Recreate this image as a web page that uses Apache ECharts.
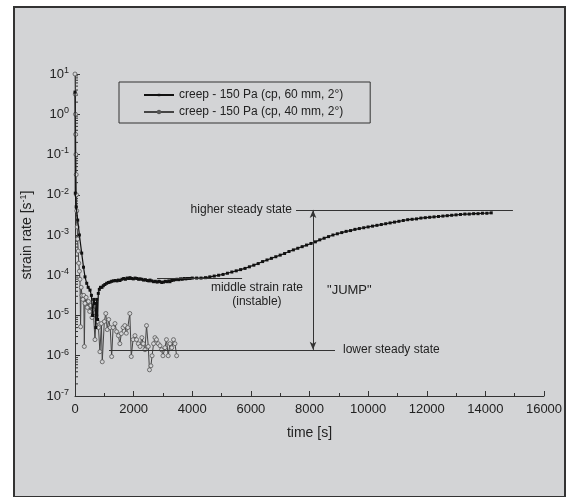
<!DOCTYPE html>
<html>
<head>
<meta charset="utf-8">
<script src="https://cdn.jsdelivr.net/npm/echarts@6/dist/echarts.min.js"></script>
<style>
  html, body { margin: 0; padding: 0; background: #fff; }
  #chart { width: 574px; height: 497px; }
</style>
</head>
<body>
<div id="chart"></div>
<script>
// time [s] and log10(strain rate)
const t60 = [0, 10, 40, 92, 150, 228, 290, 341, 400, 450, 512, 560, 600, 640, 682, 710, 740, 770, 795, 830, 870, 920, 966, 1020, 1080, 1140, 1194, 1250, 1310, 1370, 1430, 1480, 1535, 1600, 1660, 1720, 1780, 1830, 1876, 1930, 1990, 2050, 2110, 2170, 2217, 2280, 2340, 2400, 2460, 2520, 2558, 2620, 2680, 2740, 2800, 2860, 2899, 2960, 3020, 3080, 3140, 3200, 3240, 3300, 3360, 3420, 3480, 3540, 3600, 3660, 3720, 3780, 3840, 3922, 4000, 4150, 4300, 4450, 4600, 4750, 4900, 5050, 5200, 5350, 5500, 5650, 5800, 5950, 6100, 6250, 6400, 6550, 6700, 6850, 7000, 7150, 7300, 7450, 7600, 7750, 7900, 8050, 8200, 8350, 8500, 8650, 8800, 8950, 9100, 9250, 9400, 9550, 9700, 9850, 10000, 10150, 10300, 10450, 10600, 10750, 10900, 11050, 11200, 11350, 11500, 11650, 11800, 11950, 12100, 12250, 12400, 12550, 12700, 12850, 13000, 13150, 13300, 13450, 13600, 13750, 13900, 14050, 14200];
const logRate60 = [0.55, -1.96, -2.3, -2.63, -3.0, -3.45, -3.8, -4.04, -4.2, -4.3, -4.37, -4.5, -5.0, -4.6, -4.7, -5.3, -4.6, -5.1, -4.45, -4.35, -4.3, -4.3, -4.26, -4.23, -4.2, -4.18, -4.17, -4.15, -4.14, -4.13, -4.14, -4.12, -4.13, -4.1, -4.08, -4.1, -4.07, -4.08, -4.06, -4.08, -4.09, -4.07, -4.08, -4.1, -4.09, -4.1, -4.12, -4.11, -4.13, -4.14, -4.12, -4.14, -4.16, -4.15, -4.17, -4.15, -4.16, -4.18, -4.17, -4.15, -4.16, -4.14, -4.16, -4.13, -4.12, -4.11, -4.1, -4.11, -4.09, -4.1, -4.08, -4.09, -4.08, -4.08, -4.07, -4.07, -4.07, -4.06, -4.04, -4.02, -4.0, -3.98, -3.95, -3.92, -3.89, -3.86, -3.83, -3.79, -3.75, -3.71, -3.66, -3.62, -3.58, -3.54, -3.5, -3.46, -3.41, -3.37, -3.33, -3.29, -3.25, -3.21, -3.17, -3.12, -3.08, -3.04, -3.0, -2.97, -2.94, -2.91, -2.89, -2.86, -2.84, -2.82, -2.8, -2.78, -2.76, -2.74, -2.72, -2.7, -2.68, -2.66, -2.64, -2.62, -2.61, -2.6, -2.58, -2.57, -2.56, -2.55, -2.54, -2.53, -2.52, -2.51, -2.5, -2.49, -2.48, -2.48, -2.47, -2.47, -2.46, -2.46, -2.45];

const t40 = [0, 8, 15, 22, 30, 40, 50, 60, 75, 90, 110, 130, 150, 170, 190, 210, 240, 270, 300, 318, 340, 380, 420, 460, 500, 540, 580, 620, 682, 720, 760, 800, 850, 900, 930, 1000, 1050, 1100, 1150, 1200, 1250, 1300, 1364, 1420, 1480, 1530, 1580, 1640, 1700, 1750, 1800, 1870, 1920, 1980, 2046, 2100, 2160, 2220, 2280, 2330, 2387, 2440, 2500, 2540, 2590, 2630, 2680, 2728, 2780, 2840, 2900, 2950, 3000, 3069, 3120, 3180, 3240, 3300, 3360, 3410, 3467];
const logRate40 = [1.0, 0.5, 0.0, -0.5, -1.0, -1.5, -2.0, -2.4, -2.8, -3.1, -3.4, -3.7, -3.9, -4.1, -5.28, -4.3, -4.5, -4.6, -4.5, -5.77, -4.7, -4.55, -4.8, -4.65, -4.9, -4.75, -5.05, -4.85, -5.6, -5.0, -5.15, -5.3, -5.9, -5.2, -6.15, -5.15, -4.95, -5.35, -5.1, -5.3, -6.02, -5.3, -5.2, -5.4, -5.5, -5.7, -5.45, -5.3, -5.25, -5.44, -5.3, -4.95, -6.02, -5.6, -5.5, -5.6, -5.7, -5.77, -5.55, -5.7, -5.85, -5.25, -5.77, -6.35, -6.25, -6.0, -5.7, -5.55, -5.6, -5.7, -5.75, -5.85, -6.0, -5.8, -5.6, -6.0, -5.7, -5.8, -5.6, -5.7, -6.0];

const xTicks = ['0', '2000', '4000', '6000', '8000', '10000', '12000', '14000', '16000'];
const seriesNames = ['creep - 150 Pa (cp, 60 mm, 2°)', 'creep - 150 Pa (cp, 40 mm, 2°)'];

// annotation levels
const lowerLevel = 1.4e-6;
const middleLevel = 8.5e-5;
const higherLevel = 4.2e-3;
const jumpTime = 8120;

const toPairs = (ts, ls) => ts.map((t, i) => [t, Math.pow(10, ls[i])]);

// log minor tick positions (2..9 x 10^n)
const minorTicks = [];
for (let e = -7; e < 1; e++) {
  for (let m = 2; m <= 9; m++) minorTicks.push([0, m * Math.pow(10, e)]);
}

const font = '"Liberation Sans", Arial, sans-serif';
const chart = echarts.init(document.getElementById('chart'));

const option = {
  animation: false,
  backgroundColor: '#fff',
  textStyle: { fontFamily: font, color: '#222' },
  graphic: [
    {
      type: 'rect',
      z: -10,
      shape: { x: 14, y: 7, width: 551, height: 490 },
      style: { fill: '#d3d4d6', stroke: '#333', lineWidth: 2 }
    }
  ],
  grid: { left: 75, right: 30, top: 74, bottom: 101 },
  legend: {
    data: seriesNames,
    orient: 'vertical',
    left: 119,
    top: 82,
    padding: [7, 27, 5, 24],
    itemGap: 5,
    itemWidth: 30,
    itemHeight: 3,
    borderColor: '#333',
    borderWidth: 1,
    textStyle: { fontFamily: font, fontSize: 12, color: '#222' }
  },
  xAxis: {
    type: 'value',
    min: 0,
    max: 16000,
    interval: 2000,
    name: 'time [s]',
    nameLocation: 'middle',
    nameGap: 30,
    nameTextStyle: { fontFamily: font, fontSize: 14, color: '#222' },
    axisLine: { lineStyle: { color: '#333', width: 1 } },
    axisTick: { inside: true, length: 5, lineStyle: { color: '#333' } },
    minorTick: { show: true, splitNumber: 2, length: 3, lineStyle: { color: '#333' } },
    splitLine: { show: false },
    axisLabel: {
      margin: 7,
      fontSize: 13,
      color: '#222',
      formatter: (v) => xTicks[Math.round(v / 2000)]
    }
  },
  yAxis: {
    type: 'log',
    logBase: 10,
    min: 1e-7,
    max: 10,
    name: 'strain rate [s{sup|-1}]',
    nameLocation: 'middle',
    nameGap: 40,
    nameTextStyle: {
      fontFamily: font, fontSize: 14, color: '#222',
      rich: { sup: { fontSize: 9, verticalAlign: 'bottom', padding: [0, 0, 7, 0] } }
    },
    axisLine: { show: true, lineStyle: { color: '#333', width: 1 } },
    axisTick: { show: true, inside: true, length: 5, lineStyle: { color: '#333' } },
    splitLine: { show: false },
    axisLabel: {
      margin: 6,
      fontSize: 13,
      color: '#222',
      formatter: (v) => '10{sup|' + Math.round(Math.log10(v)) + '}',
      rich: { sup: { fontSize: 9, verticalAlign: 'bottom', padding: [0, 0, 7, 0] } }
    }
  },
  series: [
    {
      name: seriesNames[1],
      type: 'line',
      data: toPairs(t40, logRate40),
      symbol: 'circle',
      symbolSize: 4,
      showAllSymbol: true,
      lineStyle: { color: '#444', width: 1 },
      itemStyle: { color: '#d3d4d6', borderColor: '#555', borderWidth: 0.8 },
      z: 2
    },
    {
      name: seriesNames[0],
      type: 'line',
      data: toPairs(t60, logRate60),
      symbol: 'rect',
      symbolSize: 3,
      showAllSymbol: true,
      lineStyle: { color: '#111', width: 1.2 },
      itemStyle: { color: '#111' },
      z: 3
    },
    {
      name: 'minor',
      type: 'custom',
      silent: true,
      data: minorTicks,
      renderItem: (params, api) => {
        const p = api.coord([api.value(0), api.value(1)]);
        return {
          type: 'line',
          shape: { x1: p[0], y1: p[1], x2: p[0] + 3, y2: p[1] },
          style: { stroke: '#333', lineWidth: 1 }
        };
      }
    },
    {
      name: 'notes',
      type: 'line',
      data: [],
      silent: true,
      markLine: {
        silent: true,
        symbol: ['none', 'none'],
        label: { show: false },
        lineStyle: { color: '#333', width: 1, type: 'solid' },
        data: [
          [{ coord: [1160, lowerLevel] }, { coord: [8870, lowerLevel] }],
          [{ coord: [2800, middleLevel] }, { coord: [5700, middleLevel] }],
          [{ coord: [7540, higherLevel] }, { coord: [14940, higherLevel] }],
          [
            { coord: [jumpTime, higherLevel], symbol: 'arrow', symbolSize: [5, 8] },
            { coord: [jumpTime, lowerLevel], symbol: 'arrow', symbolSize: [5, 8] }
          ]
        ]
      },
      markPoint: {
        silent: true,
        symbol: 'circle',
        symbolSize: 0,
        data: [
          { coord: [7540, higherLevel], label: { show: true, position: 'left', distance: 4, formatter: 'higher steady state' } },
          { coord: [8870, lowerLevel], label: { show: true, position: 'right', distance: 8, formatter: 'lower steady state' } },
          { coord: [jumpTime, 4.3e-5], label: { show: true, position: 'right', distance: 14, fontSize: 13, formatter: '"JUMP"' } },
          { coord: [6206, 3.2e-5], label: { show: true, position: 'inside', lineHeight: 14, align: 'center', formatter: 'middle strain rate\n(instable)' } }
        ],
        label: { fontFamily: font, fontSize: 12, color: '#222' }
      }
    }
  ]
};

chart.setOption(option);
</script>
</body>
</html>
